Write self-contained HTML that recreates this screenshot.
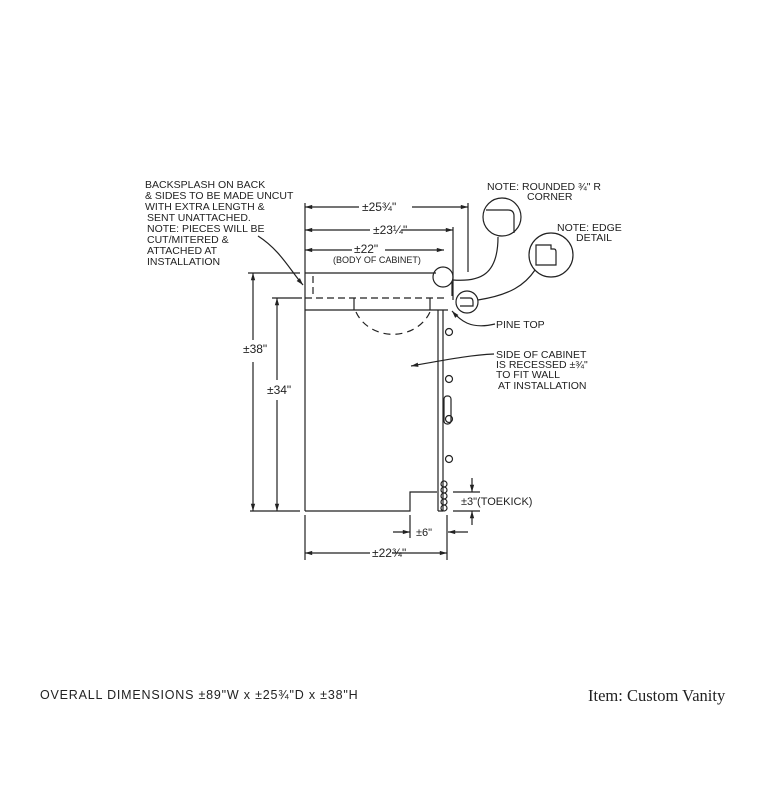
<!DOCTYPE html>
<html><head><meta charset="utf-8"><style>
html,body{margin:0;padding:0;background:#fff;}
svg{display:block}
text{font-family:"Liberation Sans Narrow","Liberation Sans",sans-serif;fill:#222;}
</style></head><body>
<svg width="768" height="790" viewBox="0 0 768 790" xmlns="http://www.w3.org/2000/svg">
<defs>
<marker id="a" viewBox="0 0 10 10" refX="10" refY="5" markerWidth="9" markerHeight="6" orient="auto-start-reverse"><path d="M0,2 L10,5 L0,8 z" fill="#222"/></marker>
</defs>
<g stroke="#222" stroke-width="1.2" fill="none">
<path d="M305,273 H436 M305,273 V511 M305,310 H448 M452,282 V296"/>
<path d="M313,276 V298 M305,298 H448" stroke-dasharray="7,4"/>
<path d="M354,298 V310 M430,298 V310"/>
<path d="M356,312 A40,36 0 0 0 430,312" stroke-dasharray="7,5"/>
<path d="M305,511 H410 V492 H437"/>
<path d="M438,310 V511 M443,310 V511 M438,511 H443"/>
<circle cx="449" cy="332" r="3.5"/><circle cx="449" cy="379" r="3.5"/><circle cx="449" cy="419" r="3.5"/><circle cx="449" cy="459" r="3.5"/>
<rect x="444" y="396" width="7" height="28" rx="3"/>
<circle cx="444" cy="484" r="3"/><circle cx="444" cy="490" r="3"/><circle cx="444" cy="496" r="3"/><circle cx="444" cy="502" r="3"/><circle cx="444" cy="508" r="3"/>
<circle cx="443" cy="277" r="10"/>
<circle cx="467" cy="302" r="11"/>
<path d="M460,298 H470 Q473,298 473,302 V306 H460"/>
<circle cx="502" cy="217" r="19"/>
<path d="M486,210 H508 Q514,210 514,216 V233"/>
<circle cx="551" cy="255" r="22"/>
<path d="M536,245 H551 V249 H554 Q556,249 556,252 V265 H536 Z"/>
<path d="M453,280 C480,282 498,275 498,237"/>
<path d="M478,300 C510,295 525,285 535,270"/>
<path d="M258,236 C280,250 290,270 303,285" marker-end="url(#a)"/>
<path d="M495,324 C470,330 460,320 452,311" marker-end="url(#a)"/>
<path d="M494,354 C470,355 445,360 411,366" marker-end="url(#a)"/>
<path d="M305,203 V273 M468,203 V272 M453,227 V300"/>
<path d="M305,207 H359" marker-start="url(#a)"/>
<path d="M412,207 H468" marker-end="url(#a)"/>
<path d="M305,230 H370" marker-start="url(#a)"/><path d="M402,230 H453" marker-end="url(#a)"/>
<path d="M305,250 H352" marker-start="url(#a)"/><path d="M385,250 H444" marker-end="url(#a)"/>
<path d="M248,273 H300 M272,298 H302 M250,511 H300"/>
<path d="M253,273 V340" marker-start="url(#a)"/><path d="M253,362 V511" marker-end="url(#a)"/>
<path d="M277,298 V380" marker-start="url(#a)"/><path d="M277,400 V511" marker-end="url(#a)"/>
<path d="M305,515 V560 M447,515 V560 M410,515 V538"/>
<path d="M305,553 H370" marker-start="url(#a)"/><path d="M392,553 H447" marker-end="url(#a)"/>
<path d="M393,532 H410" marker-end="url(#a)"/><path d="M468,532 H448" marker-end="url(#a)"/>
<path d="M453,492 H480 M453,511 H480"/>
<path d="M472,478 V492" marker-end="url(#a)"/><path d="M472,525 V511" marker-end="url(#a)"/>
</g>
<g font-size="10.5">
<text x="145" y="188">BACKSPLASH ON BACK</text>
<text x="145" y="199">&amp; SIDES TO BE MADE UNCUT</text>
<text x="145" y="210">WITH EXTRA LENGTH &amp;</text>
<text x="147" y="221">SENT UNATTACHED.</text>
<text x="147" y="232">NOTE: PIECES WILL BE</text>
<text x="147" y="243">CUT/MITERED &amp;</text>
<text x="147" y="254">ATTACHED AT</text>
<text x="147" y="265">INSTALLATION</text>
<text x="487" y="190">NOTE: ROUNDED ¾" R</text>
<text x="527" y="200">CORNER</text>
<text x="557" y="231">NOTE: EDGE</text>
<text x="576" y="241">DETAIL</text>
<text x="362" y="211" font-size="12">±25¾"</text>
<text x="373" y="234" font-size="12">±23¼"</text>
<text x="354" y="253" font-size="12">±22"</text>
<text x="333" y="263" font-size="9">(BODY OF CABINET)</text>
<text x="496" y="328">PINE TOP</text>
<text x="496" y="358">SIDE OF CABINET</text>
<text x="496" y="368">IS RECESSED ±¾"</text>
<text x="496" y="378">TO FIT WALL</text>
<text x="498" y="389">AT INSTALLATION</text>
<text x="243" y="353" font-size="12">±38"</text>
<text x="267" y="394" font-size="12">±34"</text>
<text x="461" y="505" font-size="11">±3"(TOEKICK)</text>
<text x="416" y="536" font-size="11">±6"</text>
<text x="372" y="557" font-size="12">±22¾"</text>
<text x="40" y="699" font-size="12.5" letter-spacing="0.8">OVERALL DIMENSIONS  ±89"W  x  ±25¾"D  x  ±38"H</text>
</g>
<text x="588" y="701" font-size="16.5" style="font-family:'Liberation Serif',serif">Item: Custom Vanity</text>
</svg>
</body></html>
